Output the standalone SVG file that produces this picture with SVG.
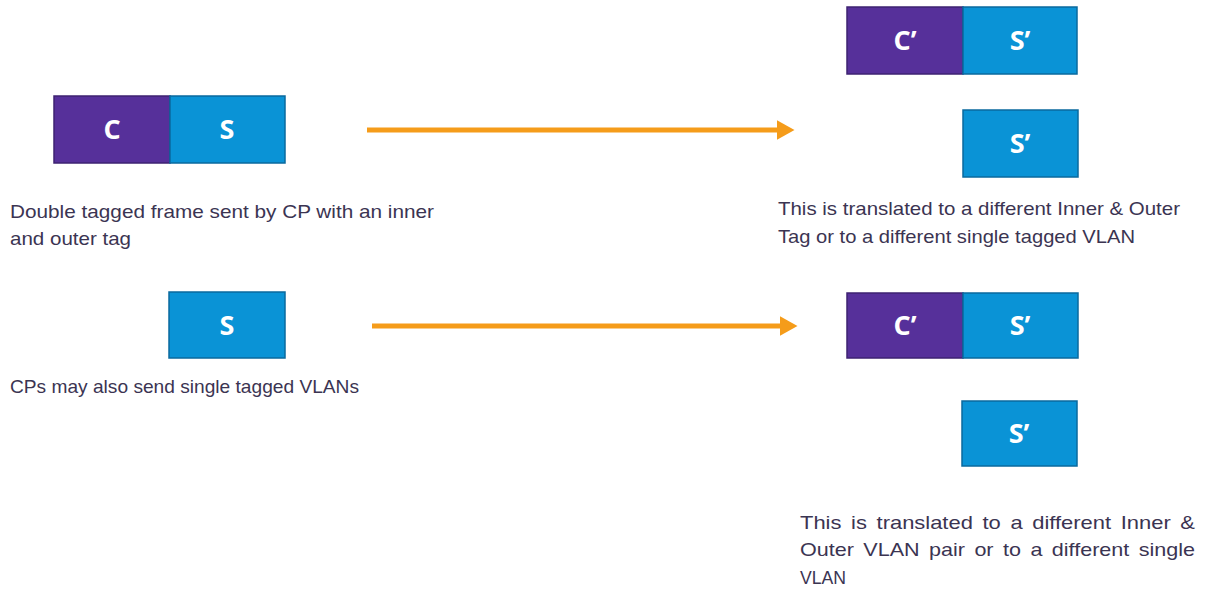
<svg xmlns="http://www.w3.org/2000/svg" width="1207" height="589" viewBox="0 0 1207 589">
<defs>
<style>
.c{fill:#56309a;stroke:#3e2272;stroke-width:1.5}
.s{fill:#0a93d6;stroke:#0a6a9e;stroke-width:1.5}
.lbl{font-family:"Open Sans","Liberation Sans",sans-serif;font-weight:bold;font-size:27px;fill:#fff;text-anchor:middle}
.t{font-family:"Liberation Sans","Open Sans",sans-serif;font-size:18.5px;fill:#3b3452}
.j{word-spacing:3px}
.arr{stroke:#f59c1a;stroke-width:5;fill:none}
</style>
<marker id="ah" markerWidth="3.6" markerHeight="4" refX="0.5" refY="2" orient="auto" markerUnits="strokeWidth">
<path d="M0,0 L3.6,2 L0,4 Z" fill="#f59c1a"/>
</marker>
</defs>
<rect width="1207" height="589" fill="#fff"/>
<g id="frame-cs-in">
<rect class="c" x="54" y="96" width="116" height="67"/>
<rect class="s" x="170" y="96" width="115" height="67"/>
<text class="lbl" x="112" y="139">C</text>
<text class="lbl" x="227" y="139">S</text>
</g>
<g id="frame-cs-out">
<rect class="c" x="847" y="7" width="116" height="67"/>
<rect class="s" x="963" y="7" width="114" height="67"/>
<text class="lbl" x="905" y="50">C’</text>
<text class="lbl" x="1020" y="50">S’</text>
</g>
<g id="frame-s-out1">
<rect class="s" x="963" y="110" width="115" height="67"/>
<text class="lbl" x="1020" y="153">S’</text>
</g>
<g id="frame-s-in">
<rect class="s" x="169" y="292" width="116" height="66"/>
<text class="lbl" x="227" y="335">S</text>
</g>
<g id="frame-cs-out2">
<rect class="c" x="847" y="293" width="116" height="65"/>
<rect class="s" x="963" y="293" width="115" height="65"/>
<text class="lbl" x="905" y="335">C’</text>
<text class="lbl" x="1020" y="335">S’</text>
</g>
<g id="frame-s-out2">
<rect class="s" x="962" y="401" width="115" height="65"/>
<text class="lbl" x="1019" y="443">S’</text>
</g>
<g id="connectors">
<line class="arr" x1="367" y1="130" x2="779" y2="130" marker-end="url(#ah)"/>
<line class="arr" x1="372" y1="326" x2="782" y2="326" marker-end="url(#ah)"/>
</g>
<g id="texts">
<text class="t" x="10" y="218" textLength="424" lengthAdjust="spacingAndGlyphs">Double tagged frame sent by CP with an inner</text>
<text class="t" x="10" y="245" textLength="121" lengthAdjust="spacingAndGlyphs">and outer tag</text>
<text class="t" x="778" y="215" textLength="402" lengthAdjust="spacingAndGlyphs">This is translated to a different Inner &amp; Outer</text>
<text class="t" x="778" y="243" textLength="357" lengthAdjust="spacingAndGlyphs">Tag or to a different single tagged VLAN</text>
<text class="t" x="10" y="393" textLength="349" lengthAdjust="spacingAndGlyphs">CPs may also send single tagged VLANs</text>
<text class="t j" x="800" y="529" textLength="395" lengthAdjust="spacingAndGlyphs">This is translated to a different Inner &amp;</text>
<text class="t j" x="800" y="556" textLength="395" lengthAdjust="spacingAndGlyphs">Outer VLAN pair or to a different single</text>
<text class="t" x="800" y="584" textLength="46" lengthAdjust="spacingAndGlyphs">VLAN</text>
</g>
</svg>
